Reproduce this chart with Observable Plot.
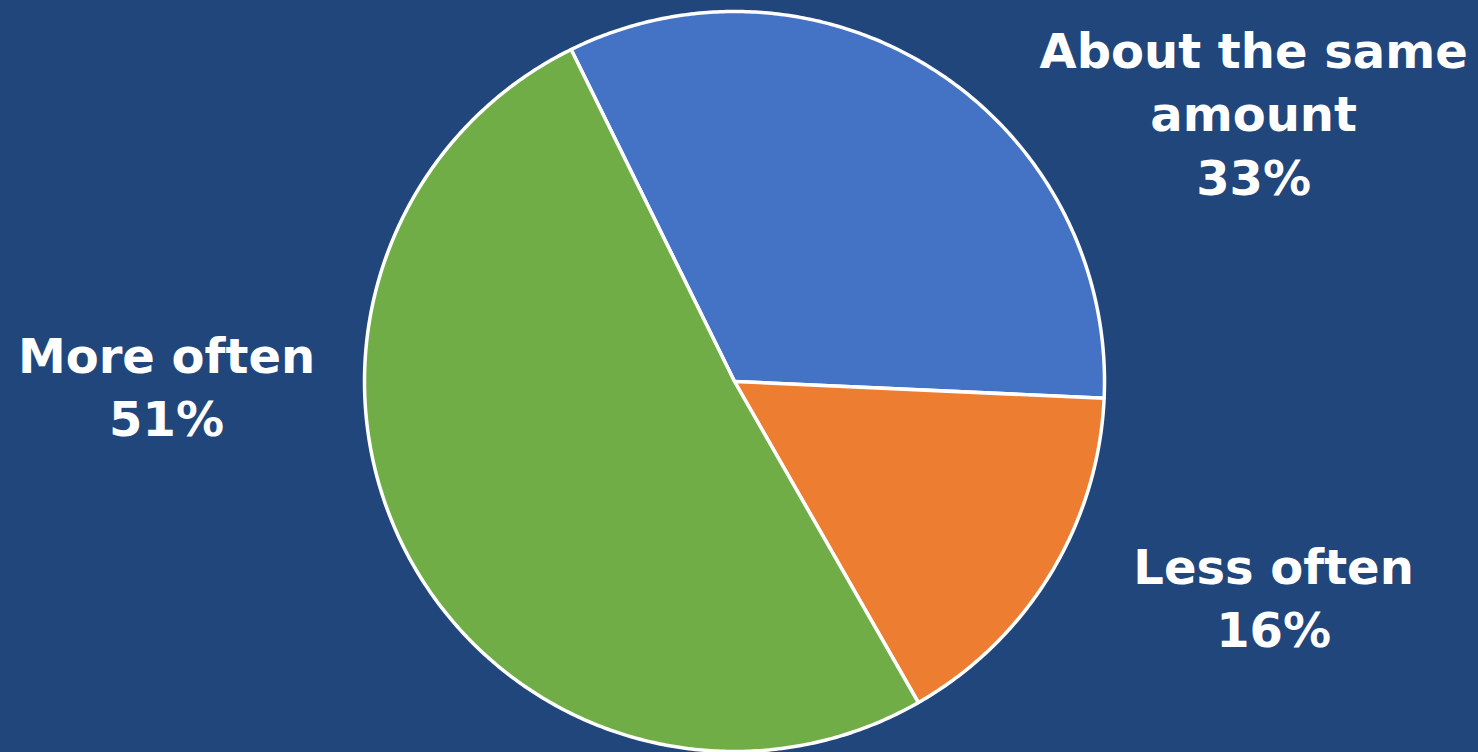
<!DOCTYPE html>
<html>
<head>
<meta charset="utf-8">
<script src="https://cdn.jsdelivr.net/npm/d3@7"></script>
<script src="https://cdn.jsdelivr.net/npm/@observablehq/plot@0.6"></script>
<style>
  html, body { margin: 0; padding: 0; background: #20467B; overflow: hidden; }
  #chart { width: 1478px; height: 752px; }
</style>
</head>
<body>
<div id="chart"></div>
<script>
// ---- data ----
const categories = ["About the same amount", "Less often", "More often"];
const shares = [33, 16, 51];
const labelLines = ["About the same\namount", "Less often", "More often"];
const sliceColors = ["#4472C4", "#ED7D31", "#70AD47"];

// ---- layout (chart units, pie radius = 1) ----
const startDeg = -26.2;
const labelPos = [
  {x: 1.403, y: 0.731},
  {x: 1.457, y: -0.577},
  {x: -1.535, y: -0.007}
];

const slices = d3.pie().sort(null).value((d) => d.share)
  .startAngle(startDeg * Math.PI / 180)
  .endAngle((startDeg + 360) * Math.PI / 180)(
    categories.map((c, i) => ({category: c, share: shares[i]}))
  );

// outline vertices of each wedge: center, then along the arc
const vertices = [];
for (const s of slices) {
  const cat = s.data.category;
  vertices.push({category: cat, x: 0, y: 0});
  const n = Math.max(2, Math.ceil((s.endAngle - s.startAngle) / (Math.PI / 360)));
  for (let k = 0; k <= n; k++) {
    const a = s.startAngle + (s.endAngle - s.startAngle) * k / n;
    vertices.push({category: cat, x: Math.sin(a), y: Math.cos(a)});
  }
}

const labels = categories.map((c, i) => ({
  category: c,
  text: labelLines[i] + "\n" + shares[i] + "%",
  x: labelPos[i].x,
  y: labelPos[i].y
}));

const R = 370, cx = 734, cy = 381;
const chart = Plot.plot({
  width: 1478,
  height: 752,
  margin: 0,
  style: {background: "#20467B", overflow: "visible"},
  x: {domain: [-1, 1], range: [cx - R, cx + R], axis: null},
  y: {domain: [-1, 1], range: [cy + R, cy - R], axis: null},
  color: {domain: categories, range: sliceColors},
  marks: [
    Plot.line(vertices, {
      x: "x", y: "y", z: "category", fill: "category",
      stroke: "white", strokeWidth: 3.5, strokeLinejoin: "round",
      curve: "linear-closed"
    }),
    Plot.text(labels, {
      x: "x", y: "y", text: "text",
      fill: "white", fontSize: 48, fontWeight: "bold",
      fontFamily: "DejaVu Sans", lineHeight: 1.32,
      textAnchor: "middle", lineAnchor: "middle"
    })
  ]
});
document.getElementById("chart").appendChild(chart);
</script>
</body>
</html>
